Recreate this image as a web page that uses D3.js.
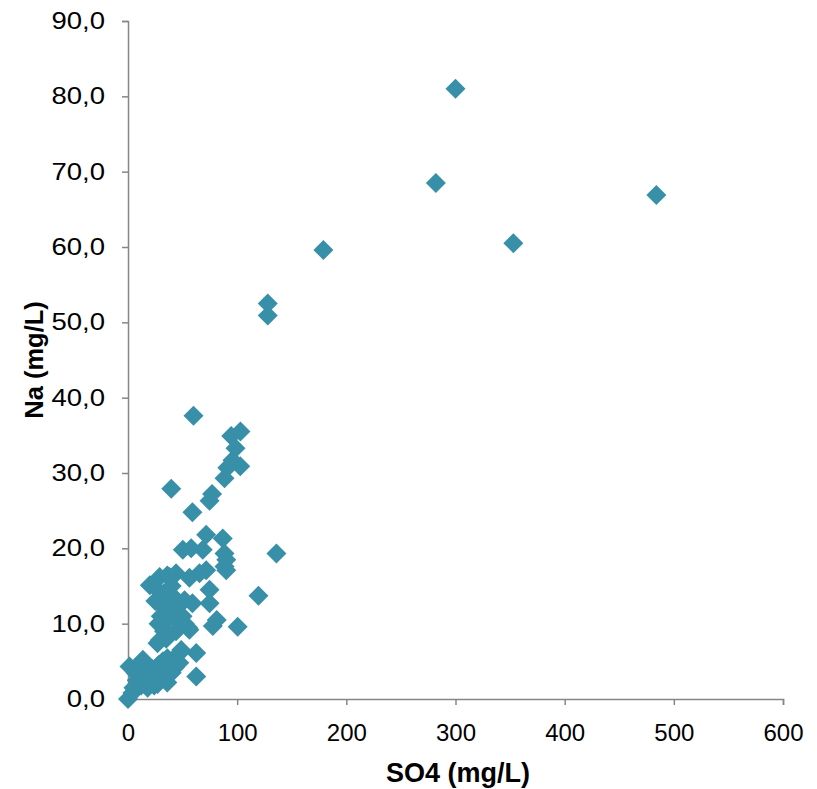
<!DOCTYPE html>
<html>
<head>
<meta charset="utf-8">
<script src="https://cdn.jsdelivr.net/npm/d3@7"></script>
<style>
  html, body { margin: 0; padding: 0; background: #fff; }
  text { font-family: Arial, "Liberation Sans", sans-serif; fill: #000; }
</style>
</head>
<body>
<svg id="chart" width="817" height="789"></svg>
<script>
// SO4 (mg/L) values
const so4 = [
  300, 282, 353, 484, 179, 128, 128,
  60, 94.5, 103, 98.5, 95.7, 102.8, 91, 88.4, 77, 74.7, 39.6, 59,
  136, 119.5, 100.5, 77.7, 81.3, 71.6, 86.8, 50.2, 57.9, 88.4, 90, 88.4, 90,
  68.5, 71.6, 65.5, 56.3, 74.7, 74.7, 59, 51.8, 56.3, 62.5, 48.7, 62.5, 44, 36,
  20, 29, 38, 27, 33, 40, 25, 30, 35, 42, 30, 36, 28, 33, 40, 45, 50, 52, 47,
  38, 29, 35, 30, 55, 44, 27,
  0, 1.4, 13.6, 5, 8, 10, 12, 15, 18, 20, 22, 25, 27, 30, 33, 36, 38, 28, 40,
  47, 18, 24, 4, 10, 32, 43, 15, 7, 36, 48
];
// Na (mg/L) values
const na = [
  81, 68.5, 60.5, 66.9, 59.6, 52.5, 50.9,
  37.6, 34.9, 35.5, 33.3, 31.7, 30.9, 30.7, 29.3, 27.2, 26.3, 27.9, 24.8,
  19.3, 13.7, 9.6, 9.7, 10.5, 21.8, 21.3, 19.8, 20, 19.3, 18.5, 17.6, 17.1,
  19.8, 17.1, 16.7, 16.1, 14.5, 12.7, 12.7, 13.1, 9.2, 6.1, 6.5, 3, 16.7, 16.4,
  15.1, 16.2, 16.2, 14.5, 14, 15, 13, 12.5, 12, 13.5, 11, 10.5, 10, 9, 11.5, 10.5, 11, 10, 12.5,
  8.5, 7.8, 8, 13.5, 9.5, 9, 7.4,
  0, 4.3, 5.2, 1.5, 2.5, 3, 1.8, 2.2, 3.5, 2.5, 4, 3, 2, 3.8, 2.8, 2.2, 4.8, 4.5, 3.5,
  4.8, 1.5, 1.8, 0.8, 4.5, 5, 4.2, 4, 3.5, 5.4, 6.2
];
const xTicks = [0, 100, 200, 300, 400, 500, 600];
const yTicks = [0, 10, 20, 30, 40, 50, 60, 70, 80, 90];

const svg = d3.select("#chart");
const mL = 128, mR = 783, mT = 21, mB = 699;
const x = d3.scaleLinear().domain([0, 600]).range([mL, mR]);
const y = d3.scaleLinear().domain([0, 90]).range([mB, mT]);
const axisColor = "#868686";
const fmt = d => d3.format(".1f")(d).replace(".", ",");

// y axis
const gy = svg.append("g").attr("transform", `translate(${mL},0)`)
  .call(d3.axisLeft(y).tickValues(yTicks).tickSize(6).tickPadding(17).tickFormat(fmt));
// x axis
const gx = svg.append("g").attr("transform", `translate(0,${mB})`)
  .call(d3.axisBottom(x).tickValues(xTicks).tickSize(6).tickPadding(19).tickFormat(d3.format("d")));
[gx, gy].forEach(g => {
  g.select(".domain").attr("stroke", axisColor).attr("stroke-width", 1.5);
  g.selectAll(".tick line").attr("stroke", axisColor).attr("stroke-width", 1.5);
  g.selectAll(".tick text").attr("font-size", 24).attr("fill", "#000")
    .attr("font-family", "Arial, 'Liberation Sans', sans-serif");
});
// y tick labels appear horizontally wider in the reference
gy.selectAll(".tick text").attr("font-size", 23.5).each(function () {
  const w = this.getComputedTextLength();
  d3.select(this).attr("textLength", w * 1.17).attr("lengthAdjust", "spacingAndGlyphs");
});

// points
const sym = d3.symbol().type(d3.symbolSquare).size(200);
svg.append("g").selectAll("path").data(so4.map((v, i) => [v, na[i]]))
  .join("path")
  .attr("d", sym)
  .attr("transform", d => `translate(${x(d[0])},${y(d[1])}) rotate(45)`)
  .attr("fill", "#3890A8");

// titles
svg.append("text").attr("x", 458).attr("y", 782)
  .attr("text-anchor", "middle").attr("font-size", 27).attr("font-weight", "bold")
  .text("SO4 (mg/L)");
svg.append("text").attr("transform", `translate(43,${(mT + mB) / 2}) rotate(-90)`)
  .attr("text-anchor", "middle").attr("font-size", 25.5).attr("font-weight", "bold")
  .text("Na (mg/L)");
</script>
</body>
</html>
